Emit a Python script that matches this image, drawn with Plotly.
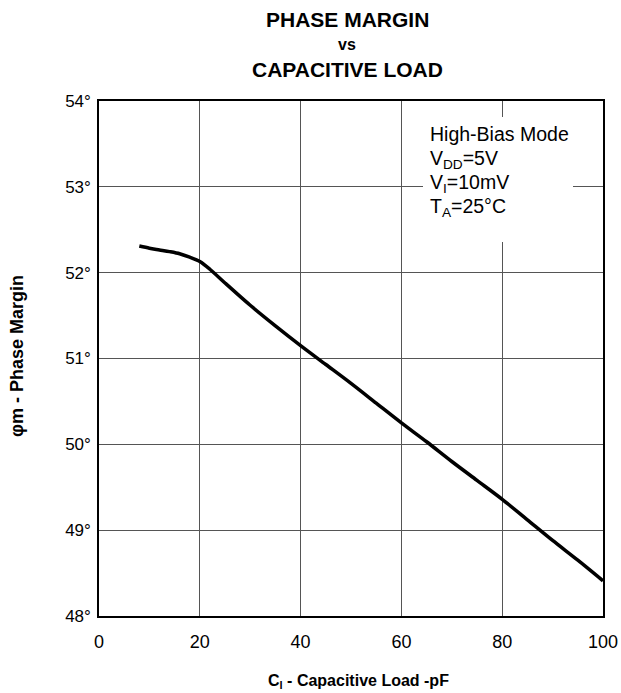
import plotly.graph_objects as go

cap_load_pf = [8, 10, 12, 14, 16, 18, 20, 22, 25, 30, 35, 40, 45, 50, 55, 60, 65, 70, 75, 80, 85, 90, 95, 100]
phase_margin_deg = [52.31, 52.285, 52.265, 52.245, 52.22, 52.18, 52.13, 52.04, 51.88, 51.62, 51.38, 51.15,
                    50.93, 50.71, 50.48, 50.25, 50.03, 49.80, 49.58, 49.36, 49.12, 48.88, 48.65, 48.41]
x_ticks = [0, 20, 40, 60, 80, 100]
y_ticks = [48, 49, 50, 51, 52, 53, 54]
y_tick_labels = ["48°", "49°", "50°", "51°", "52°", "53°", "54°"]
title_lines = ["PHASE MARGIN", "vs", "CAPACITIVE LOAD"]
note_lines = ["High-Bias Mode", "V<sub>DD</sub>=5V", "V<sub>I</sub>=10mV", "T<sub>A</sub>=25°C"]

FONT = "Liberation Sans, Arial, sans-serif"
W, H = 621, 693
# plot box in window pixels: x 99..603, y 101..616
L, R, T, B = 99, 621 - 603, 101, 693 - 616
PW, PH = W - L - R, H - T - B

def px(xp):  # window pixel -> paper x
    return (xp - L) / PW

def py(yp):  # window pixel -> paper y
    return (H - B - yp) / PH

fig = go.Figure()
fig.add_trace(go.Scatter(x=cap_load_pf, y=phase_margin_deg, mode="lines",
                         line=dict(color="black", width=3.5, shape="spline", smoothing=0.8),
                         hoverinfo="skip", showlegend=False))

fig.update_xaxes(range=[0, 100], tickvals=x_ticks, showgrid=True, gridcolor="#555555", gridwidth=1,
                 zeroline=False, showline=True, linecolor="black", linewidth=1.5, mirror=True,
                 ticks="", ticklabelstandoff=9, automargin=False,
                 tickfont=dict(family=FONT, size=18, color="black"))
fig.update_yaxes(range=[48, 54], tickvals=y_ticks, ticktext=y_tick_labels, showgrid=True,
                 gridcolor="#555555", gridwidth=1, zeroline=False, showline=True, linecolor="black",
                 linewidth=1.5, mirror=True, ticks="", ticklabelstandoff=3, automargin=False,
                 tickfont=dict(family=FONT, size=17, color="black"))

# white background behind the conditions note
fig.add_shape(type="rect", xref="paper", yref="paper", x0=px(423), x1=px(573), y0=py(242), y1=py(117),
              fillcolor="white", line=dict(width=0), layer="above")

annotations = []
title_y = [20, 45, 69]
title_sizes = [21, 16, 21]
for txt, yy, sz in zip(title_lines, title_y, title_sizes):
    annotations.append(dict(text="<b>%s</b>" % txt, xref="paper", yref="paper", x=px(347), y=py(yy),
                            xanchor="center", yanchor="middle", showarrow=False,
                            font=dict(family=FONT, size=sz, color="black")))
note_y = [134, 159, 183, 207]
for txt, yy in zip(note_lines, note_y):
    annotations.append(dict(text=txt, xref="paper", yref="paper", x=px(428), y=py(yy),
                            xanchor="left", yanchor="middle", showarrow=False,
                            font=dict(family=FONT, size=19.5, color="black")))
annotations.append(dict(text="<b>C<sub>l</sub> - Capacitive Load -pF</b>", xref="paper", yref="paper",
                        x=px(358), y=py(681), xanchor="center", yanchor="middle", showarrow=False,
                        font=dict(family=FONT, size=16, color="black")))
annotations.append(dict(text="<b>φm - Phase Margin</b>", xref="paper", yref="paper",
                        x=px(17), y=py(356), xanchor="center", yanchor="middle", showarrow=False,
                        textangle=-90, font=dict(family=FONT, size=18, color="black")))

fig.update_layout(width=W, height=H, margin=dict(l=L, r=R, t=T, b=B), plot_bgcolor="white",
                  paper_bgcolor="white", annotations=annotations, showlegend=False)

fig.write_html("out.html", config={"displayModeBar": False},
               post_script="document.body.style.margin='0';"
                           "document.documentElement.style.overflow='hidden';")
